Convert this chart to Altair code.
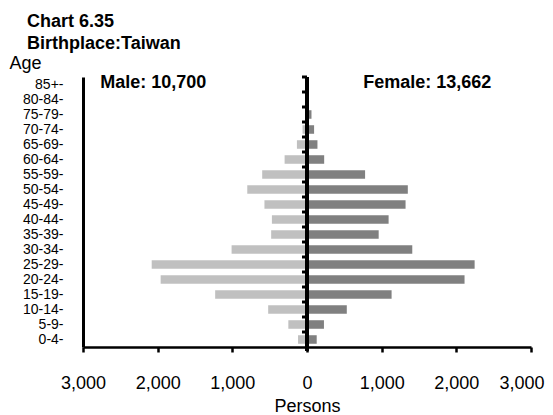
import altair as alt
import pandas as pd

# Age groups from youngest to oldest
ages = ["0-4", "5-9", "10-14", "15-19", "20-24", "25-29", "30-34", "35-39", "40-44",
        "45-49", "50-54", "55-59", "60-64", "65-69", "70-74", "75-79", "80-84", "85+"]
male = [120, 250, 520, 1230, 1960, 2080, 1010, 480, 470, 570, 800, 600, 300, 135, 60, 25, 15, 10]
female = [130, 227, 533, 1133, 2110, 2245, 1410, 960, 1093, 1320, 1350, 778, 230, 140, 95, 60, 20, 10]
x_ticks = [-3000, -2000, -1000, 0, 1000, 2000, 3000]
annot_text = ["Male: 10,700", "Female: 13,662"]
annot_x = [-2770, 754]

rows = []
for a, m, f in zip(ages, male, female):
    rows.append({"age": a, "sex": "Male", "value": -m})
    rows.append({"age": a, "sex": "Female", "value": f})
df = pd.DataFrame(rows)
df_age = pd.DataFrame({"age": ages})
df_ann = pd.DataFrame({"label": annot_text, "x": annot_x})

order = ages[::-1]
FONT = "Liberation Sans"
y_scale = alt.Scale(domain=order, paddingInner=0.43, paddingOuter=0.215)
x_scale = alt.Scale(domain=[-3000, 3000], nice=False, zero=False)

bars = alt.Chart(df).mark_bar().encode(
    x=alt.X("value:Q", scale=x_scale, stack=None,
            axis=alt.Axis(values=x_ticks, labelExpr="format(abs(datum.value), ',')",
                          labelFlush=False, labelOverlap=False,
                          labelAlign={"expr": "datum.value >= 3000 ? 'right' : 'center'"},
                          labelOffset={"expr": "datum.value >= 3000 ? 13 : 0"},
                          title="Persons", grid=False, domainWidth=2.5, domainColor="black",
                          tickColor="black", tickWidth=2.5, tickSize=5, labelPadding=22,
                          labelFontSize=18, labelFont=FONT, labelColor="black",
                          titleFontSize=18, titleFont=FONT, titleFontWeight="normal",
                          titleColor="black", titlePadding=5)),
    y=alt.Y("age:N", scale=y_scale, sort=order,
            axis=alt.Axis(title="Age", labelExpr="datum.value + '-'", ticks=False,
                          labelPadding=20, labelFontSize=14, labelFont=FONT,
                          labelColor="black", domainWidth=3, domainColor="black",
                          titleAngle=0, titleX=-74, titleY=-9, titleAlign="left",
                          titleBaseline="alphabetic", titleFontSize=18, titleFont=FONT,
                          titleFontWeight="normal", titleColor="black")),
    color=alt.Color("sex:N", scale=alt.Scale(domain=["Male", "Female"],
                                             range=["#c0c0c0", "#808080"]), legend=None),
)

center = alt.Chart(df_age).mark_rule(color="black", strokeWidth=2.5).encode(
    x=alt.datum(0), y=alt.value(0), y2=alt.value(274)
)

ticks = alt.Chart(df_age).mark_rule(color="black", strokeWidth=3, yOffset=-7.5, xOffset=-5).encode(
    x=alt.datum(0), x2=alt.datum(0), y=alt.Y("age:N", sort=order)
)

ann = alt.Chart(df_ann).mark_text(align="left", baseline="alphabetic", dy=3.5, fontSize=18,
                                  fontWeight="bold", font=FONT, color="black").encode(
    x=alt.X("x:Q"), y=alt.datum("85+"), text="label:N"
)

chart = alt.layer(bars, center, ticks, ann).properties(
    width=448, height=270,
    autosize=alt.AutoSizeParams(type="none"),
    padding={"left": 75, "top": 69, "right": 14, "bottom": 68},
    title=alt.TitleParams(text=["Chart 6.35", "Birthplace:Taiwan"], anchor="start",
                          frame="group", dx=-56, offset=1, fontSize=18, fontWeight="bold",
                          font=FONT, lineHeight=21.6, color="black"),
).configure_view(stroke=None)

chart.save("out.html", embed_options={"renderer": "svg", "actions": False})
